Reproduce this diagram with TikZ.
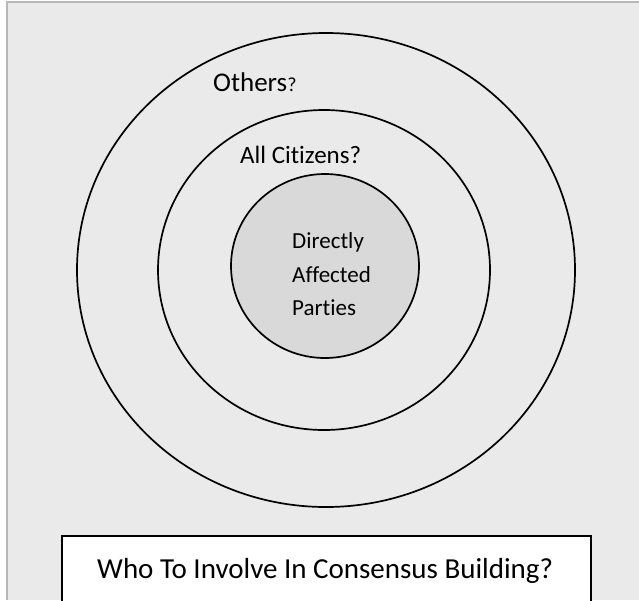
\documentclass[tikz,border=0pt]{standalone}
\usepackage{fontspec}
\setmainfont{Carlito}[Ligatures=NoCommon]
\definecolor{bgfill}{HTML}{EAEAEA}
\definecolor{framegrey}{HTML}{B8B8B8}
\definecolor{corefill}{HTML}{D9D9D9}
\begin{document}
\begin{tikzpicture}[x=1pt,y=-1pt,
  ring/.style={draw=black,line width=1.7pt},
  lbl/.style={inner sep=0pt,anchor=base west,text=black}]
\useasboundingbox (0,0) rectangle (639,600);
\fill[white] (0,0) rectangle (639,600);
\fill[bgfill] (7,2) rectangle (639,600);
\draw[framegrey,line width=1.2pt] (7,600) -- (7,2) -- (639,2);
% rings
\draw[ring] (326,270) ellipse [x radius=249, y radius=237];
\draw[ring] (324,270) ellipse [x radius=166, y radius=160];
\draw[ring,fill=corefill] (325,266) ellipse [x radius=94, y radius=92];
% labels
\node[lbl,font=\fontsize{27}{32}\selectfont] (others) at (213,91) {Others{\fontsize{20}{24}\selectfont ?}};
\node[lbl,font=\fontsize{25}{30}\selectfont] (citizens) at (240,163) {All Citizens?};
\node[lbl,font=\fontsize{23}{28}\selectfont] (d1) at (292,248) {Directly};
\node[lbl,font=\fontsize{23}{28}\selectfont] (d2) at (292,282) {Affected};
\node[lbl,font=\fontsize{23}{28}\selectfont] (d3) at (292,315) {Parties};
% caption box
\draw[black,line width=1.7pt,fill=white] (62,610) -- (62,536) -- (591,536) -- (591,610);
\node[lbl,font=\fontsize{29}{34}\selectfont] (caption) at (97,578) {Who To Involve In Consensus Building?};
\end{tikzpicture}
\end{document}
